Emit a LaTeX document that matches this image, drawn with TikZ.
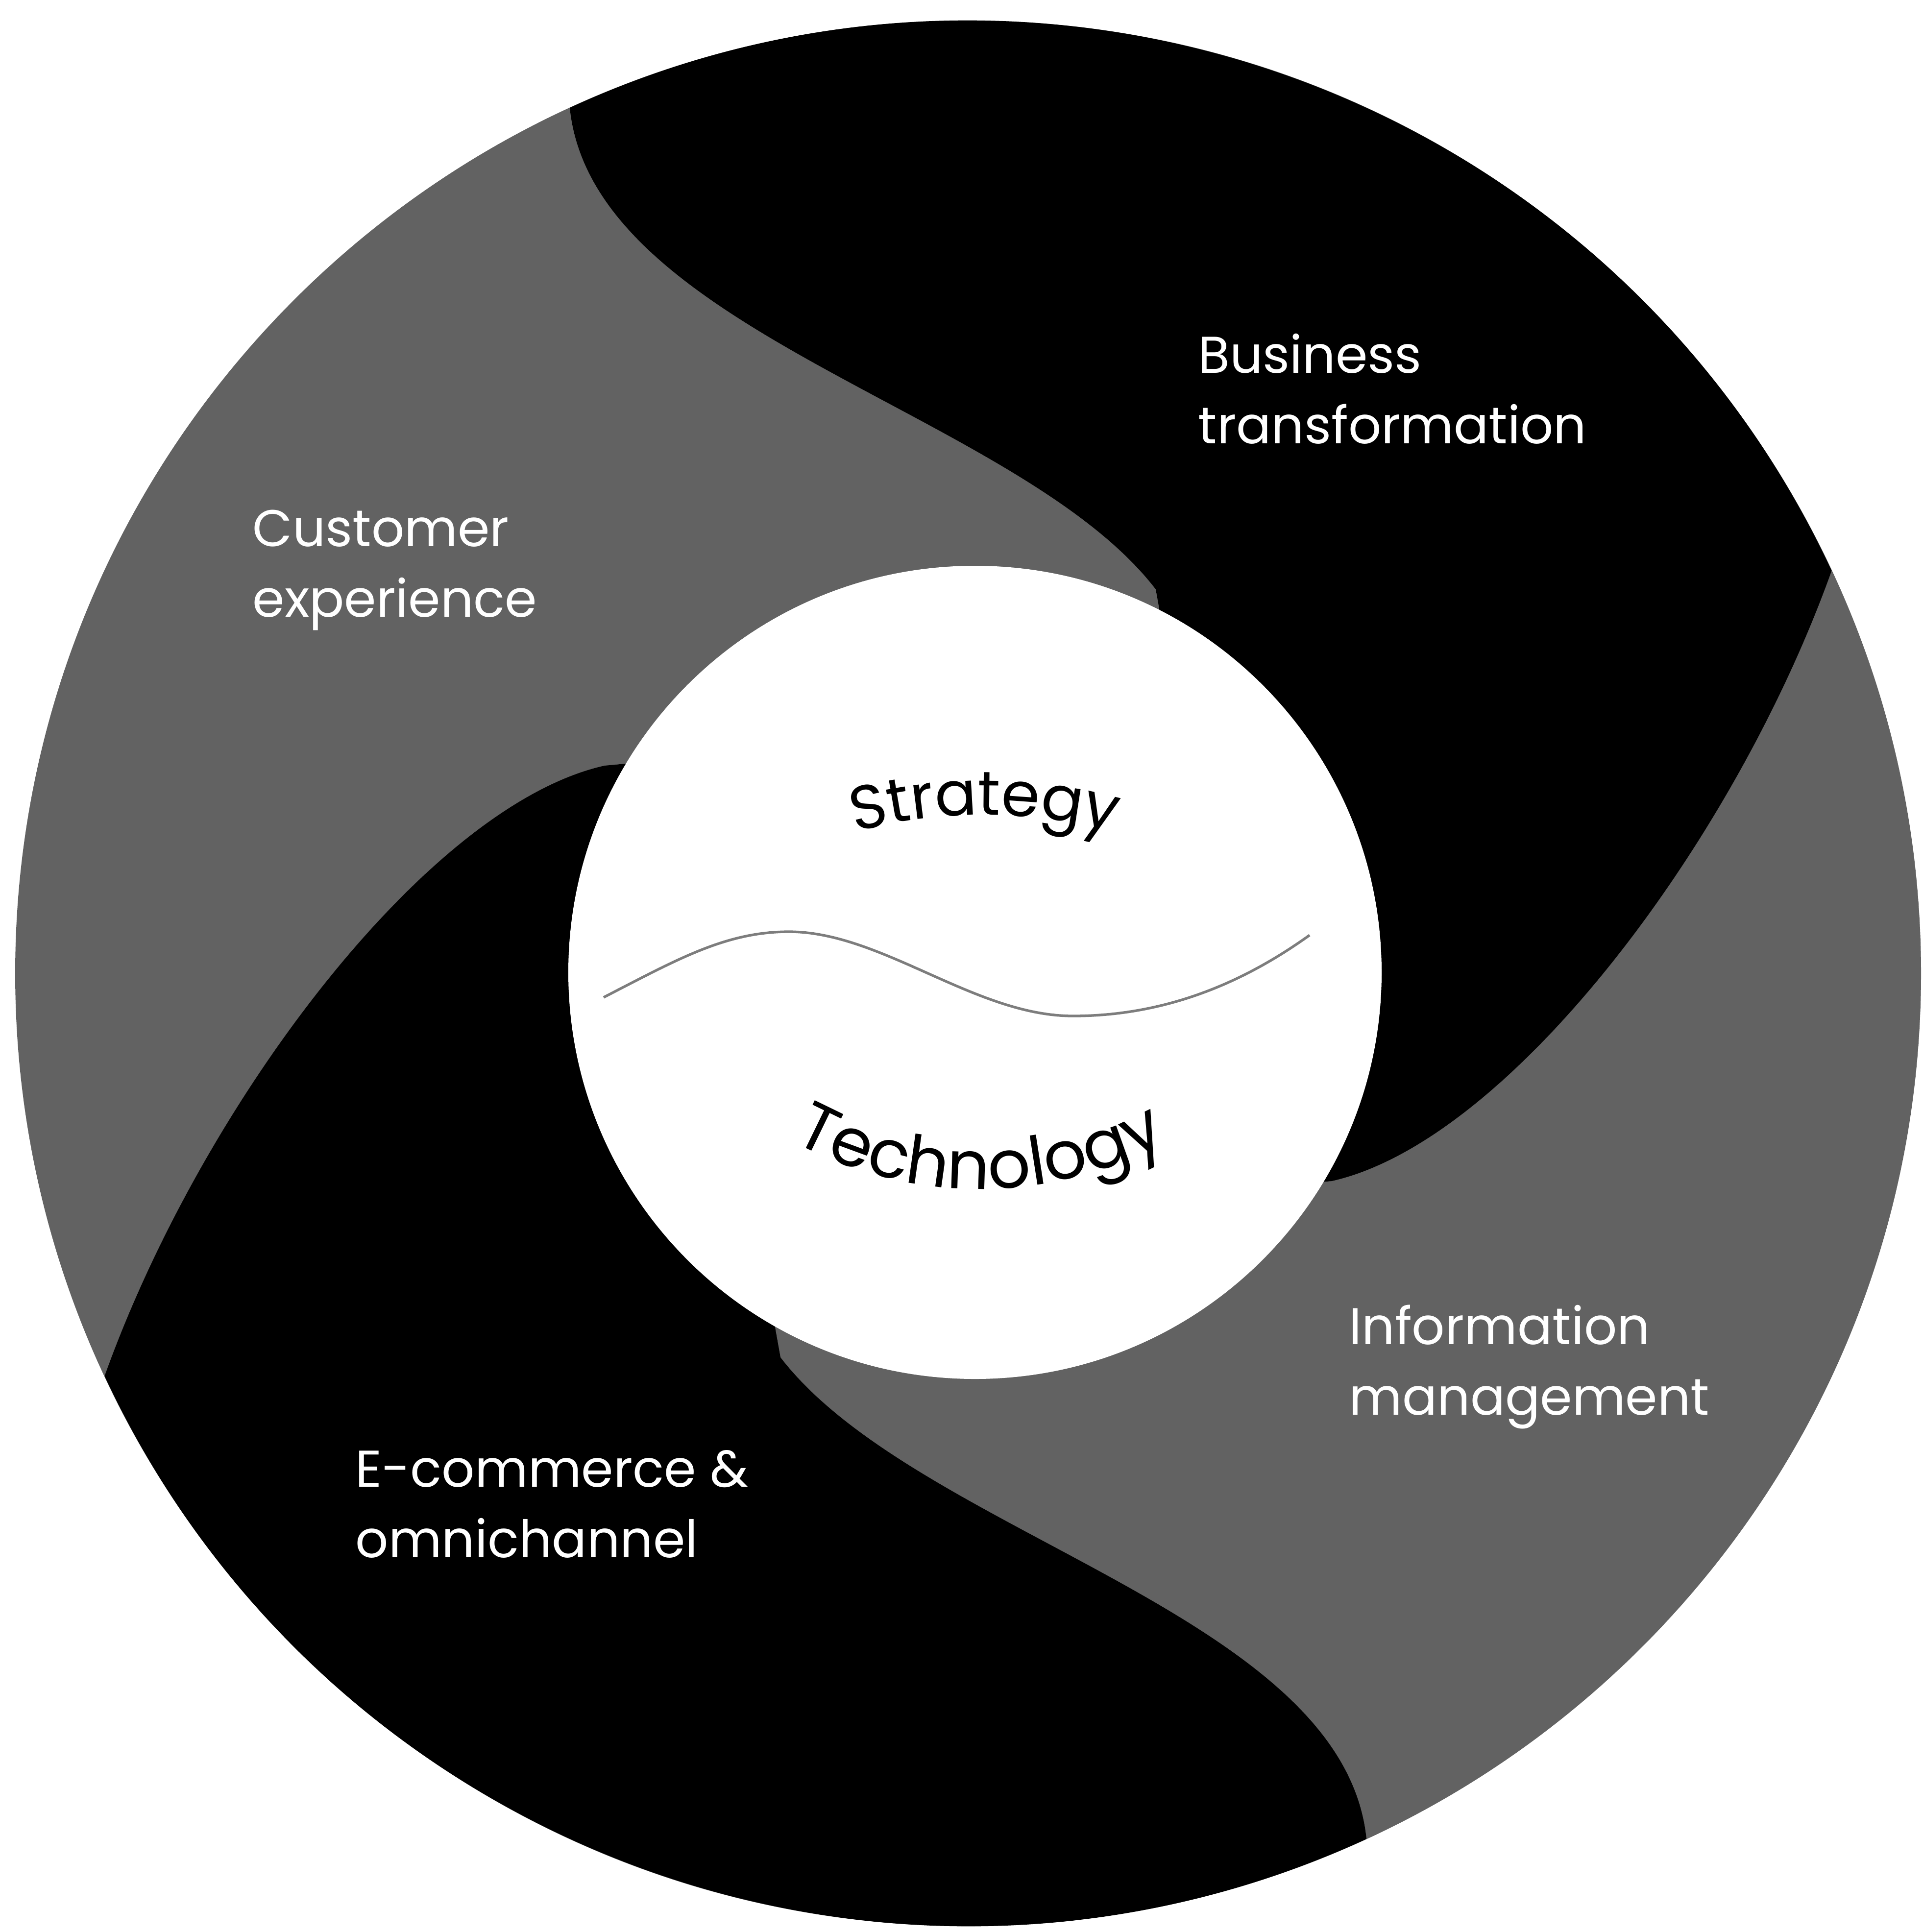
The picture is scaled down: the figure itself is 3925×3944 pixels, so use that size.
\documentclass[tikz,border=0pt]{standalone}
\usepackage{fontspec}
\setmainfont{Poppins}
\usepackage{tikz}
\definecolor{ringGray}{RGB}{98, 98, 98}
\definecolor{waveGray}{RGB}{125, 125, 125}
\usetikzlibrary{decorations.text}
\newcommand{\arcfont}{\fontsize{36}{40}\selectfont}
\newcommand{\arcfontb}{\fontsize{39}{43}\selectfont}

\begin{document}
\begin{tikzpicture}[
    x=0.01cm, y=0.01cm,
    ring/.style={fill=ringGray},
    swirl/.style={fill=black},
    hub/.style={fill=white},
    wave/.style={draw=waveGray, line width=1.5pt},
    seglabel/.style={anchor=north west, inner sep=0pt, align=left, text=white, font=\fontsize{30}{41}\selectfont},
    arctext/.style={decorate, decoration={text along path, text align=center, text={#1}}}
]
    \useasboundingbox (0,0) rectangle (3925,-3944);
    \fill[white] (0,0) rectangle (3925,-3944);
    \coordinate (O) at (1976,-1987);
    \coordinate (hubc) at (1990,-1985);

    \fill[ring] (O) circle[radius=1945];

    % black swirl, then the same one turned round by half
    \foreach \a in {0,180}{
      \begin{scope}[rotate around={\a:(O)}]
        \fill[swirl] (1163,-220) arc[start angle=114.7, end angle=25, radius=1945]
          .. controls (3540,-1720) and (3080,-2330) .. (2718,-2411)
          -- (2620,-2420) -- (1990,-1985) -- (2380,-1320) -- (2359,-1203)
          .. controls (2080,-840) and (1210,-680) .. (1163,-220)
          -- cycle;
      \end{scope}
    }

    \fill[hub] (hubc) circle[radius=830];

    \draw[wave] (1232,-2036) .. controls (1380,-1960) and (1480,-1902) .. (1610,-1902)
      .. controls (1800,-1902) and (1990,-2074) .. (2190,-2074)
      .. controls (2400,-2074) and (2560,-1990) .. (2673,-1909);

    \path[arctext={|\arcfont|Strategy}] (1587,-1757) arc[start angle=115, end angle=65, radius=1000];
    \path[arctext={|\arcfontb|Technology}] (1486,-2240) arc[start angle=230, end angle=310, radius=800];

    \node[seglabel] (business) at (2445,-680) {Business\\transformation};
    \node[seglabel] (customer) at (515,-1040) {Customer\\experience};
    \node[seglabel] (information) at (2753,-2663) {Information\\management};
    \node[seglabel] (ecommerce) at (725,-2960) {E-commerce \&\\omnichannel};
\end{tikzpicture}
\end{document}
